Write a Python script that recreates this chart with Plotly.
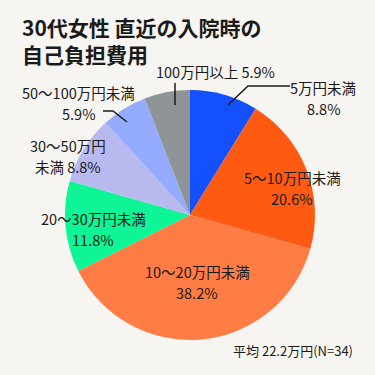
import plotly.graph_objects as go

categories = ["5万円未満", "5～10万円未満", "10～20万円未満", "20～30万円未満",
              "30～50万円未満", "50～100万円未満", "100万円以上"]
shares = [8.8, 20.6, 38.2, 11.8, 8.8, 5.9, 5.9]
colors = ["#1550ff", "#ff5a12", "#ff7d45", "#0df595", "#b7b9ef", "#95abff", "#8f9497"]

W = H = 375
BG = "#f7f5f1"
TXT = "#1a1a1a"
FONT = "Noto Sans CJK JP"


def px(x):
    return x / W


def py(y):
    return 1 - y / H


cx, cy, r = 190, 215, 125

fig = go.Figure(go.Pie(
    labels=categories, values=shares, sort=False, direction="clockwise",
    rotation=0, textinfo="none", hoverinfo="label+percent",
    marker=dict(colors=colors, line=dict(width=0)),
    domain=dict(x=[px(cx - r), px(cx + r)], y=[py(cy + r), py(cy - r)]),
    showlegend=False,
))


def pct(i):
    return f"{shares[i]:.1f}%"


# (x center, y midpoint between the two lines, line1 text, line2 text)
labels = [
    (323, 98, "5万円未満", pct(0)),
    (292, 188, "5～10万円未満", pct(1)),
    (197, 282, "10～20万円未満", pct(2)),
    (93, 229, "20～30万円未満", pct(3)),
    (68, 156, "30～50万円", f"未満 {pct(4)}"),
    (78, 103, "50～100万円未満", pct(5)),
]
annotations = []
GAP = 10.5


def add_text(x, y, t, size=14.5):
    annotations.append(dict(x=px(x), y=py(y), xref="paper", yref="paper", text=t,
                            showarrow=False, xanchor="center", yanchor="middle",
                            borderpad=0, font=dict(family=FONT, size=size, color=TXT)))


for x, y, t1, t2 in labels:
    add_text(x, y - GAP, t1)
    add_text(x, y + GAP, t2)
add_text(215, 71, f"100万円以上 {pct(6)}")

annotations.append(dict(x=px(21), y=py(41), xref="paper", yref="paper",
                        text="<b>30代女性 直近の入院時の<br>自己負担費用</b>",
                        showarrow=False, align="left", xanchor="left", yanchor="middle",
                        borderpad=0,
                        font=dict(family=FONT, size=21, color=TXT)))
add_text(293, 350, "平均 22.2万円(N=34)", size=13)

lines = [
    [(290, 86), (248, 86), (228, 105)],
    [(103, 111), (113, 111), (127, 122)],
    [(175, 83), (175, 105)],
]
shapes = []
for pts in lines:
    path = "M " + " L ".join(f"{px(x)},{py(y)}" for x, y in pts)
    shapes.append(dict(type="path", path=path, xref="paper", yref="paper",
                       line=dict(color=TXT, width=1.5)))

fig.update_layout(width=W, height=H, margin=dict(l=0, r=0, t=0, b=0),
                  paper_bgcolor=BG, plot_bgcolor=BG,
                  annotations=annotations, shapes=shapes)
fig.write_html("out.html", config={"displayModeBar": False},
               post_script="document.body.style.margin='0';document.body.style.background='" + BG + "';")
